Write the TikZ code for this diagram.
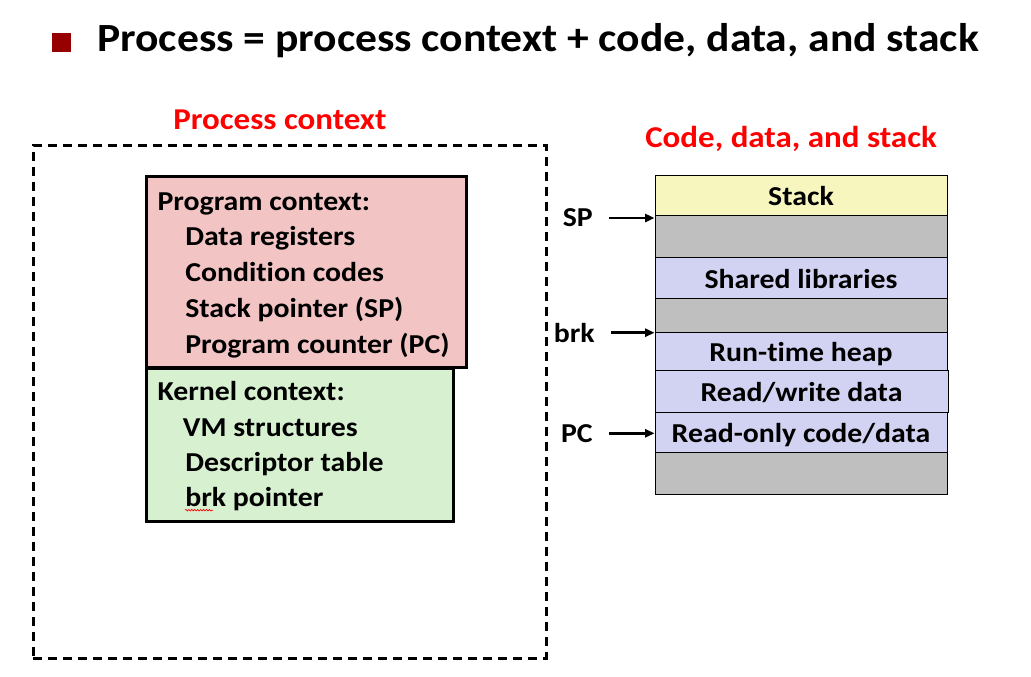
\documentclass[tikz,border=0pt]{standalone}
\usepackage{fontspec}
\setmainfont{Carlito}[Ligatures=NoCommon, FakeStretch=1.09]
\usetikzlibrary{arrows.meta,decorations.pathmorphing}
\definecolor{bulletred}{RGB}{150,0,0}
\definecolor{headred}{RGB}{255,0,0}
\definecolor{pinkfill}{RGB}{242,196,196}
\definecolor{greenfill}{RGB}{214,240,208}
\definecolor{stackfill}{RGB}{246,246,190}
\definecolor{segfill}{RGB}{210,210,242}
\definecolor{gapfill}{RGB}{191,191,191}
\begin{document}
\begin{tikzpicture}[x=0.75pt,y=-0.75pt,
  bodytxt/.style={font=\fontsize{20.5}{24}\selectfont\bfseries, inner sep=0pt, anchor=base west},
  headtxt/.style={font=\fontsize{22.7}{27}\selectfont\bfseries, text=headred, inner sep=0pt, anchor=base west},
  ctxbox/.style={draw=black, line width=2.25pt, rectangle, inner sep=0pt},
  dashbox/.style={draw=black, line width=2.25pt, dash pattern=on 6.75pt off 4.5pt, rectangle, inner sep=0pt},
  seg/.style={draw=black, line width=0.75pt, rectangle, inner sep=0pt, minimum width=219pt,
    font=\fontsize{20.5}{24}\selectfont\bfseries, text height=19pt, text depth=3pt},
  ptrlbl/.style={font=\fontsize{20.5}{24}\selectfont\bfseries, inner sep=0pt, anchor=east},
  ptr/.style={line width=2pt, -{Triangle[length=7pt,width=6pt]}, shorten <=12pt}
]
\useasboundingbox (0,0) rectangle (1031,676);

% title
\node[fill=bulletred, minimum size=14.25pt, inner sep=0pt] (bullet) at (61.5,42.5) {};
\node[font=\fontsize{30}{34}\selectfont\bfseries, inner sep=0pt, anchor=base west] (title) at (97,51.7)
  {Process = process context + code, data, and stack};

% headings
\node[headtxt] (hctx) at (173,129.3) {Process context};
\node[headtxt] (hmem) at (645,147.3) {Code, data, and stack};

% dashed process-context frame
\node[dashbox, minimum width=384.75pt, minimum height=384.4pt] (frame) at (289.5,401.75) {};

% program context
\node[ctxbox, fill=pinkfill, minimum width=240pt, minimum height=143.25pt] (prog) at (306.5,272) {};
\node[ctxbox, fill=greenfill, minimum width=230.25pt, minimum height=114.75pt] (kern) at (300,445) {};

\node[bodytxt] (p1) at (157.3,210) {Program context:};
\node[bodytxt] (p2) at (185,245.5) {Data registers};
\node[bodytxt] (p3) at (185,281) {Condition codes};
\node[bodytxt] (p4) at (185,317) {Stack pointer (SP)};
\node[bodytxt] (p5) at (185,353) {Program counter (PC)};

\node[bodytxt] (k1) at (157.3,400) {Kernel context:};
\node[bodytxt] (k2) at (182.7,436.5) {VM structures};
\node[bodytxt] (k3) at (185,471.7) {Descriptor table};
\node[bodytxt] (k4) at (185,506.7) {brk pointer};
\draw[red, line width=0.5pt, decorate, decoration={snake, amplitude=0.6pt, segment length=2.2pt}]
  ([yshift=-2.6pt]k4.base west) -- ++(28,0);

% memory image
\node[seg, fill=stackfill, minimum height=30pt] (stack) at (801,195) {Stack};
\node[seg, fill=gapfill, minimum height=31.5pt] (gap1) at (801,236) {};
\node[seg, fill=segfill, minimum height=30.75pt] (shlib) at (801,277.5) {Shared libraries};
\node[seg, fill=gapfill, minimum height=25.5pt] (gap2) at (801,315) {};
\node[seg, fill=segfill, minimum height=28.5pt] (heap) at (801,351) {Run-time heap};
\node[seg, fill=segfill, minimum height=31.5pt, minimum width=219.75pt] (rw) at (801.5,391) {Read/write data};
\node[seg, fill=segfill, minimum height=30pt] (ro) at (801,432) {Read-only code/data};
\node[seg, fill=gapfill, minimum height=31.5pt] (gap3) at (801,473) {};

% pointers
\node[ptrlbl] (sp) at (593,218) {SP};
\node[ptrlbl] (brk) at (595,332.7) {brk};
\node[ptrlbl] (pc) at (593,433.3) {PC};
\draw[ptr] (sp.east) -- (sp.east -| gap1.west);
\draw[ptr] (brk.east) -- (brk.east -| heap.west);
\draw[ptr] (pc.east) -- (pc.east -| ro.west);
\end{tikzpicture}
\end{document}
